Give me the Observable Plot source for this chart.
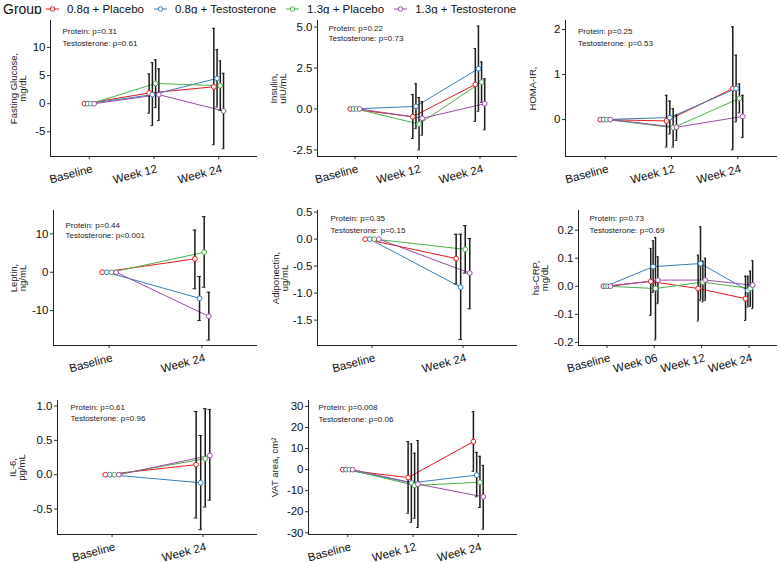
<!DOCTYPE html>
<html><head><meta charset="utf-8">
<script src="https://cdn.jsdelivr.net/npm/d3@7"></script>
<script src="https://cdn.jsdelivr.net/npm/@observablehq/plot@0.6"></script>
<style>
body{margin:0;background:#fff;font-family:"Liberation Sans",Arial,sans-serif;}
#root{position:relative;width:780px;height:563px;overflow:hidden;background:#fff;}
.panel{position:absolute;}
#legend{position:absolute;left:3px;top:0;height:17px;display:flex;align-items:center;color:#111;white-space:nowrap;}
#legend .ttl{font-size:14px;margin-right:4px;}
#legend .lab{font-size:11.5px;margin-right:10px;}
#legend svg{margin-right:8px;}
</style></head><body><div id="root"><div id="legend"></div></div>
<script>
const groups = ["0.8g + Placebo", "0.8g + Testosterone", "1.3g + Placebo", "1.3g + Testosterone"];
const groupColors = ["#e41a1c", "#377eb8", "#4daf4a", "#984ea3"];
const times3 = ["Baseline", "Week 12", "Week 24"];
const times2 = ["Baseline", "Week 24"];
const times4 = ["Baseline", "Week 06", "Week 12", "Week 24"];

// Fasting glucose, mg/dL
const glucoseMean = [[0, 1.9, 3.0], [0, 1.6, 4.5], [0, 3.6, 3.2], [0, 1.6, -1.3]];
const glucoseLow  = [[null, -1.7, -7.3], [null, -3.9, -0.6], [null, -0.7, -1.2], [null, -3.0, -8.0]];
const glucoseHigh = [[null, 5.3, 13.4], [null, 7.3, 9.6], [null, 7.8, 7.6], [null, 6.2, 5.4]];
// Insulin, uIU/mL
const insulinMean = [[0, -0.47, 1.5], [0, 0.16, 2.46], [0, -0.92, 1.64], [0, -0.57, 0.32]];
const insulinLow  = [[null, -1.8, -0.76], [null, -1.2, -0.14], [null, -2.5, 0.41], [null, -1.6, -1.27]];
const insulinHigh = [[null, 0.88, 3.69], [null, 1.54, 5.06], [null, 0.7, 2.87], [null, 0.45, 1.84]];
// HOMA-IR
const homaMean = [[0, -0.03, 0.69], [0, 0.045, 0.69], [0, -0.18, 0.47], [0, -0.17, 0.07]];
const homaLow  = [[null, -0.61, -0.67], [null, -0.32, -0.05], [null, -0.61, 0.15], [null, -0.46, -0.4]];
const homaHigh = [[null, 0.54, 2.06], [null, 0.41, 1.43], [null, 0.24, 0.79], [null, 0.1, 0.54]];
// Leptin, ng/mL
const leptinMean = [[0, 3.5], [0, -6.8], [0, 5.2], [0, -11.5]];
const leptinLow  = [[null, -4.3], [null, -12.6], [null, -3.9], [null, -17.7]];
const leptinHigh = [[null, 11.0], [null, -1.1], [null, 14.5], [null, -5.2]];
// Adiponectin, ug/mL
const adipoMean = [[0, -0.36], [0, -0.89], [0, -0.19], [0, -0.63]];
const adipoLow  = [[null, -0.83], [null, -1.86], [null, -0.63], [null, -1.29]];
const adipoHigh = [[null, 0.09], [null, 0.09], [null, 0.25], [null, 0.01]];
// hs-CRP, mg/dL
const crpMean = [[0, 0.017, -0.008, -0.044], [0, 0.07, 0.081, -0.015], [0, -0.008, 0.015, -0.008], [0, 0.022, 0.022, 0.004]];
const crpLow  = [[null, -0.104, -0.124, -0.122], [null, -0.022, -0.05, -0.074], [null, -0.191, -0.056, -0.072], [null, -0.062, -0.05, -0.08]];
const crpHigh = [[null, 0.135, 0.111, 0.036], [null, 0.162, 0.212, 0.036], [null, 0.174, 0.09, 0.054], [null, 0.105, 0.1, 0.091]];
// IL-6, pg/mL
const il6Mean = [[0, 0.146], [0, -0.117], [0, 0.233], [0, 0.28]];
const il6Low  = [[null, -0.63], [null, -0.8], [null, -0.47], [null, -0.37]];
const il6High = [[null, 0.92], [null, 0.57], [null, 0.96], [null, 0.95]];
// VAT area, cm2
const vatMean = [[0, -3.8, 13.3], [0, -6.3, -2.6], [0, -7.5, -6.0], [0, -6.9, -12.9]];
const vatLow  = [[null, -20.7, -0.8], [null, -25, -12.9], [null, -23.1, -18], [null, -27.5, -28.3]];
const vatHigh = [[null, 13.3, 27.5], [null, 12.2, 8.2], [null, 7.8, 6.3], [null, 13.8, 2.0]];

// y ticks / p-value notes
const glucoseTicks = [-5, 0, 5, 10];
const insulinTicks = [-2.5, 0, 2.5, 5];
const homaTicks = [0, 1, 2];
const leptinTicks = [-10, 0, 10];
const adipoTicks = [-1.5, -1, -0.5, 0, 0.5];
const crpTicks = [-0.2, -0.1, 0, 0.1, 0.2];
const il6Ticks = [-0.5, 0, 0.5, 1];
const vatTicks = [-30, -20, -10, 0, 10, 20, 30];

const panels = [
  {label: "Fasting Glucose,\nmg/dL", note: "Protein: p=0.31\nTestosterone: p=0.61", times: times3, mean: glucoseMean, low: glucoseLow, high: glucoseHigh, ticks: glucoseTicks, dec: 0, domain: [-9.4, 14.8],
   col: 0, row: 0, ml: 50, mr: 3, noteDx: 12, noteDy: 5, noteLh: 1.5, labDx: -32},
  {label: "Insulin,\nuIU/mL", note: "Protein: p=0.22\nTestosterone: p=0.73", times: times3, mean: insulinMean, low: insulinLow, high: insulinHigh, ticks: insulinTicks, dec: 1, domain: [-2.9, 5.4],
   col: 1, row: 0, ml: 57, mr: 3, noteDx: 11, noteDy: 3, noteLh: 1.25, labDx: -39},
  {label: "HOMA-IR,", note: "Protein: p=0.25\nTestosterone: p=0.53", times: times3, mean: homaMean, low: homaLow, high: homaHigh, ticks: homaTicks, dec: 0, domain: [-0.82, 2.2],
   col: 2, row: 0, ml: 45, mr: 3, noteDx: 12.5, noteDy: 5.5, noteLh: 1.45, labDx: -32},
  {label: "Leptin,\nng/mL", note: "Protein: p=0.44\nTestosterone: p<0.001", times: times2, mean: leptinMean, low: leptinLow, high: leptinHigh, ticks: leptinTicks, dec: 0, domain: [-19.1, 16.1],
   col: 0, row: 1, ml: 53, mr: 3, noteDx: 12, noteDy: 10, noteLh: 1.25, labDx: -35},
  {label: "Adiponectin,\nug/mL", note: "Protein: p=0.35\nTestosterone: p=0.15", times: times2, mean: adipoMean, low: adipoLow, high: adipoHigh, ticks: adipoTicks, dec: 1, domain: [-1.97, 0.53],
   col: 1, row: 1, ml: 57, mr: 3, noteDx: 13, noteDy: 2.5, noteLh: 1.45, labDx: -37},
  {label: "hs-CRP,\nmg/dL", note: "Protein: p=0.73\nTestosterone: p=0.69", times: times4, mean: crpMean, low: crpLow, high: crpHigh, ticks: crpTicks, dec: 1, domain: [-0.211, 0.27],
   col: 2, row: 1, ml: 58, mr: 3, noteDx: 11, noteDy: 2.5, noteLh: 1.45, labDx: -38},
  {label: "IL-6,\npg/mL", note: "Protein: p=0.61\nTestosterone: p=0.96", times: times2, mean: il6Mean, low: il6Low, high: il6High, ticks: il6Ticks, dec: 1, domain: [-0.87, 1.08],
   col: 0, row: 2, ml: 57, mr: 3, noteDx: 13, noteDy: 2, noteLh: 1.35, labDx: -40},
  {label: "VAT area, cm\u00b2", note: "Protein: p=0.008\nTestosterone: p=0.06", times: times3, mean: vatMean, low: vatLow, high: vatHigh, ticks: vatTicks, dec: 0, domain: [-30.8, 32.8],
   col: 1, row: 2, ml: 48, mr: 3, noteDx: 10, noteDy: 2, noteLh: 1.4, labDx: -33}
];

const colX = [0, 260, 520];
const rowsLayout = [
  {top: 14, height: 186, mt: 6, mb: 44},
  {top: 200, height: 185, mt: 10, mb: 40},
  {top: 385, height: 178, mt: 15, mb: 29}
];
const dodgeStep = 0.05;
const root = document.getElementById("root");

// Legend
const legend = document.getElementById("legend");
legend.innerHTML = `<span class="ttl">Group</span>` + groups.map((g, i) =>
  `<svg width="13" height="8"><line x1="0" x2="13" y1="4" y2="4" stroke="${groupColors[i]}" stroke-width="1"/><circle cx="6.5" cy="4" r="2.3" fill="white" stroke="${groupColors[i]}" stroke-width="1"/></svg><span class="lab">${g}</span>`
).join("");

for (const p of panels) {
  const n = p.times.length;
  const rows = [];
  p.mean.forEach((series, g) => series.forEach((v, t) => rows.push({
    group: groups[g], x: t + (g - 1.5) * dodgeStep, y: v, lo: p.low[g][t], hi: p.high[g][t]
  })));
  const bars = rows.filter(d => d.lo != null);
  const lay = rowsLayout[p.row];
  const xDomain = [-0.6, n - 0.4];
  const chart = Plot.plot({
    width: 260,
    height: lay.height,
    marginLeft: p.ml,
    marginRight: p.mr,
    marginTop: lay.mt,
    marginBottom: lay.mb,
    style: {fontFamily: "'Liberation Sans', Arial, sans-serif", fontSize: "11px", color: "#111", background: "white", overflow: "visible"},
    x: {domain: xDomain, label: null},
    y: {domain: p.domain, label: null},
    color: {domain: groups, range: groupColors},
    marks: [
      Plot.axisX(d3.range(n), {tickSize: 3, label: null, stroke: "#333", text: null}),
      Plot.axisX(d3.range(n), {tickFormat: i => p.times[i], tickRotate: -15, tickSize: 0, tickPadding: 12, dx: 3, fontSize: 11.5, label: null}),
      Plot.axisY(p.ticks, {tickFormat: v => v.toFixed(p.dec), tickSize: 3, tickPadding: 2, fontSize: 11.5, label: null, stroke: "#333"}),
      Plot.ruleY([p.domain[0]], {stroke: "#222", strokeWidth: 1}),
      Plot.ruleX([xDomain[0]], {stroke: "#222", strokeWidth: 1}),
      Plot.line(rows, {x: "x", y: "y", z: "group", stroke: "group", strokeWidth: 1}),
      Plot.ruleX(bars, {x: "x", y1: "lo", y2: "hi", stroke: "#1a1a1a", strokeWidth: 1.5}),
      Plot.ruleY(bars, {y: "lo", x1: d => d.x - 0.02, x2: d => d.x + 0.02, stroke: "#1a1a1a", strokeWidth: 1}),
      Plot.ruleY(bars, {y: "hi", x1: d => d.x - 0.02, x2: d => d.x + 0.02, stroke: "#1a1a1a", strokeWidth: 1}),
      Plot.dot(rows, {x: "x", y: "y", stroke: "group", fill: "white", r: 2.4, strokeWidth: 1}),
      Plot.text([p.note], {frameAnchor: "top-left", dx: p.noteDx, dy: p.noteDy, textAnchor: "start", lineAnchor: "top", fontSize: 8, lineHeight: p.noteLh, fill: "#222"}),
      Plot.text([p.label], {frameAnchor: "left", rotate: -90, dx: p.labDx, textAnchor: "middle", lineAnchor: "middle", fontSize: 9.5, lineHeight: 0.95, fill: "#222"})
    ]
  });
  chart.classList.add("panel");
  chart.style.left = colX[p.col] + "px";
  chart.style.top = lay.top + "px";
  root.appendChild(chart);
}
</script>
</body></html>
